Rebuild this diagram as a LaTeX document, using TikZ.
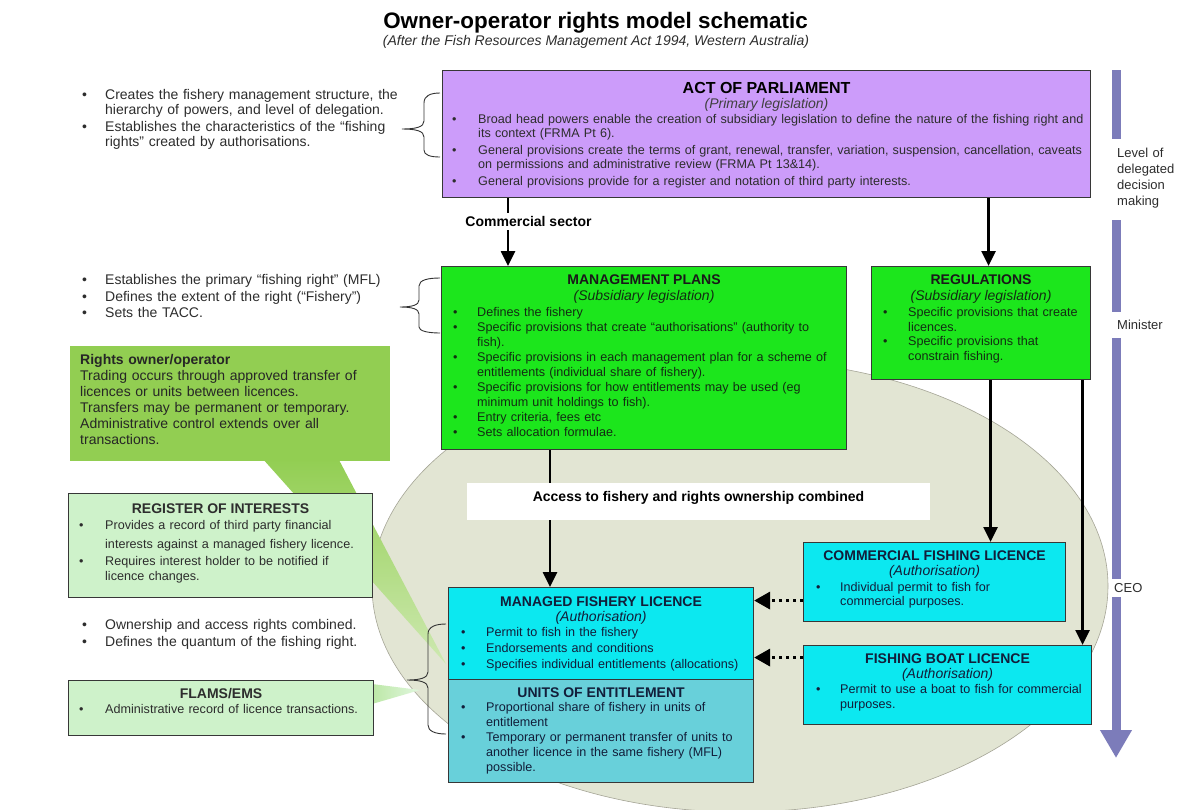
\documentclass[tikz,border=0pt]{standalone}
\usepackage{fontspec}
\setmainfont{Liberation Sans}
\usetikzlibrary{arrows.meta,calc}

\definecolor{actfill}{RGB}{204,156,250}
\definecolor{legfill}{RGB}{28,230,28}
\definecolor{calloutfill}{RGB}{146,206,82}
\definecolor{notefill}{RGB}{206,242,202}
\definecolor{licfill}{RGB}{12,232,240}
\definecolor{unitfill}{RGB}{104,208,218}
\definecolor{fieldfill}{RGB}{226,229,211}
\definecolor{fieldline}{RGB}{165,165,150}
\definecolor{axiscol}{RGB}{124,124,186}
\definecolor{frame}{RGB}{55,55,55}
\definecolor{inkgreen}{RGB}{18,45,18}
\definecolor{inkblue}{RGB}{18,30,58}
\definecolor{inkgrey}{RGB}{45,45,45}

% bullet with hanging indent, and the matching continuation indent
\newcommand\bu[1][24pt]{\makebox[#1][l]{\textbullet}}
\newcommand\ct[1][24pt]{\hspace*{#1}}

\begin{document}
\begin{tikzpicture}[x=1pt,y=-1pt,
  box/.style={draw=frame, line width=1.1pt, inner sep=0pt, anchor=north west},
  hd/.style={font=\fontsize{14}{16}\selectfont\bfseries, anchor=base, inner sep=0pt},
  hdbig/.style={font=\fontsize{16}{18}\selectfont\bfseries, anchor=base, inner sep=0pt},
  sub/.style={font=\fontsize{14}{16}\selectfont\itshape, anchor=base, inner sep=0pt},
  lst/.style={anchor=base west, inner sep=0pt, align=left, text width=#1},
  lst/.default=420pt,
  conn/.style={draw=black, line width=2.6pt, -{Triangle[width=14pt,length=15pt]}},
  dotconn/.style={draw=black, line width=3.4pt, dash pattern=on 3.4pt off 3.6pt,
                  -{Triangle[width=17pt,length=16pt]}},
  brace/.style={draw=black!80, line width=0.9pt},
  axisbar/.style={draw=axiscol, line width=9pt},
  axislbl/.style={font=\fontsize{13}{16}\selectfont, text=inkgrey, inner sep=0pt,
                  anchor=base west, align=left, text width=70pt},
]
\useasboundingbox (0,0) rectangle (1188,809);
\fill[white] (0,0) rectangle (1188,809);

% ---- heading ----
\node[font=\fontsize{22.4}{26}\selectfont\bfseries, anchor=base, inner sep=0pt] (title)
  at (595.5,28) {Owner-operator rights model schematic};
\node[font=\fontsize{14}{16}\selectfont\itshape, text=inkgrey, anchor=base, inner sep=0pt] (subtitle)
  at (596,45) {(After the Fish Resources Management Act 1994, Western Australia)};

% ---- fishery field ----
\draw[fill=fieldfill, draw=fieldline, line width=0.6pt] (740,586) ellipse [x radius=368, y radius=226];

% ---- callout pointers ----
\shade[top color=calloutfill, bottom color=calloutfill!45!white]
  (262,458) -- (446,664) -- (338,458) -- cycle;
\shade[left color=notefill!70!calloutfill, right color=notefill!60!white]
  (372,684) -- (420,690) -- (372,704) -- cycle;

% ---- left-hand notes ----
\node[lst, font=\fontsize{14}{15}\selectfont, text=inkgrey] (notetop) at (82,99.5)
  {\bu[23pt]Creates the fishery management structure, the\\
   \ct[23pt]hierarchy of powers, and level of delegation.\\[2pt]
   \bu[23pt]Establishes the characteristics of the “fishing\\
   \ct[23pt]rights” created by authorisations.};
\node[lst, font=\fontsize{14}{16.5}\selectfont, text=inkgrey] (notemid) at (82,284.5)
  {\bu[23pt]Establishes the primary “fishing right” (MFL)\\
   \bu[23pt]Defines the extent of the right (“Fishery”)\\
   \bu[23pt]Sets the TACC.};
\node[lst, font=\fontsize{14}{17}\selectfont, text=inkgrey] (notelow) at (82,629.5)
  {\bu[23pt]Ownership and access rights combined.\\
   \bu[23pt]Defines the quantum of the fishing right.};

% braces
\draw[brace] (440,93) .. controls (430,93) and (424,96) .. (424,103) -- (424,121)
  .. controls (424,127) and (416,129) .. (402,129)
  .. controls (416,129) and (424,131) .. (424,137) -- (424,150)
  .. controls (424,155) and (430,157) .. (440,157);
\draw[brace] (440,278) .. controls (428,278) and (419,280) .. (419,286) -- (419,300)
  .. controls (419,305) and (412,307) .. (400,307)
  .. controls (412,307) and (419,309) .. (419,314) -- (419,327)
  .. controls (419,331) and (428,333) .. (440,333);
\draw[brace] (446,624) .. controls (435,624) and (428,627) .. (428,634) -- (428,672)
  .. controls (428,678) and (420,680) .. (407,680)
  .. controls (420,680) and (428,682) .. (428,688) -- (428,725)
  .. controls (428,731) and (435,734) .. (446,734);

% rights owner/operator callout
\node[fill=calloutfill, inner sep=0pt, anchor=north west, minimum width=320pt, minimum height=115pt]
  (rights) at (70,346) {};
\node[lst, font=\fontsize{14}{16}\selectfont, text=black!85] (rightstxt) at (80,364)
  {\textbf{Rights owner/operator}\\
   Trading occurs through approved transfer of\\
   licences or units between licences.\\
   Transfers may be permanent or temporary.\\
   Administrative control extends over all\\
   transactions.};

% register of interests
\node[box, fill=notefill, minimum width=304pt, minimum height=104pt] (register) at (68,493) {};
\node[hd, text=inkgrey] (registerhd) at (register.north |- 0,513) {REGISTER OF INTERESTS};
\node[lst, font=\fontsize{12.6}{15}\selectfont, text=inkgrey] (registerlst) at (79,529.5)
  {\bu[26pt]Provides a record of third party financial\\[4pt]
   \ct[26pt]interests against a managed fishery licence.\\[2pt]
   \bu[26pt]Requires interest holder to be notified if\\
   \ct[26pt]licence changes.};

% FLAMS/EMS
\node[box, fill=notefill, minimum width=305pt, minimum height=55pt] (flams) at (68,680) {};
\node[hd, text=inkgrey] (flamshd) at (flams.north |- 0,698) {FLAMS/EMS};
\node[lst, font=\fontsize{12.6}{15}\selectfont, text=inkgrey] (flamslst) at (79,713.5)
  {\bu[26pt]Administrative record of licence transactions.};

% ---- legislation ----
\node[box, fill=actfill, minimum width=648pt, minimum height=127pt] (act) at (442,70) {};
\node[hdbig] (acthd) at (act.north |- 0,93) {ACT OF PARLIAMENT};
\node[sub, text=black!75] (actsub) at (act.north |- 0,108) {(Primary legislation)};
\node[lst=640pt, font=\fontsize{12.6}{14}\selectfont, text=inkgrey] (actlst) at (452,123)
  {\bu[26pt]Broad head powers enable the creation of subsidiary legislation to define the nature of the fishing right and\\
   \ct[26pt]its context (FRMA Pt 6).\\[3pt]
   \bu[26pt]General provisions create the terms of grant, renewal, transfer, variation, suspension, cancellation, caveats\\
   \ct[26pt]on permissions and administrative review (FRMA Pt 13\&14).\\[3pt]
   \bu[26pt]General provisions provide for a register and notation of third party interests.};

\node[box, fill=legfill, minimum width=405pt, minimum height=183pt] (mp) at (441,266) {};
\node[hd, text=black!90] (mphd) at (mp.north |- 0,284) {MANAGEMENT PLANS};
\node[sub, text=inkgreen] (mpsub) at (mp.north |- 0,300) {(Subsidiary legislation)};
\node[lst, font=\fontsize{12.6}{15.1}\selectfont, text=inkgreen] (mplst) at (453,316)
  {\bu Defines the fishery\\
   \bu Specific provisions that create “authorisations” (authority to\\
   \ct fish).\\
   \bu Specific provisions in each management plan for a scheme of\\
   \ct entitlements (individual share of fishery).\\
   \bu Specific provisions for how entitlements may be used (eg\\
   \ct minimum unit holdings to fish).\\
   \bu Entry criteria, fees etc\\
   \bu Sets allocation formulae.};

\node[box, fill=legfill, minimum width=219pt, minimum height=113pt] (regs) at (871,266) {};
\node[hd, text=black!90] (regshd) at (regs.north |- 0,284) {REGULATIONS};
\node[sub, text=inkgreen] (regssub) at (regs.north |- 0,300) {(Subsidiary legislation)};
\node[lst, font=\fontsize{12.6}{14.5}\selectfont, text=inkgreen] (regslst) at (883,316.5)
  {\bu[25pt]Specific provisions that create\\
   \ct[25pt]licences.\\
   \bu[25pt]Specific provisions that\\
   \ct[25pt]constrain fishing.};

% ---- authorisations ----
\node[box, fill=licfill, minimum width=305pt, minimum height=92pt] (mfl) at (448,587) {};
\node[hd, text=inkblue] (mflhd) at (mfl.north |- 0,606) {MANAGED FISHERY LICENCE};
\node[sub, text=inkblue] (mflsub) at (mfl.north |- 0,621) {(Authorisation)};
\node[lst, font=\fontsize{12.6}{16}\selectfont, text=inkblue] (mfllst) at (461,636.5)
  {\bu[25pt]Permit to fish in the fishery\\
   \bu[25pt]Endorsements and conditions\\
   \bu[25pt]Specifies individual entitlements (allocations)};

\node[box, fill=unitfill, minimum width=305pt, minimum height=103pt] (uoe) at (448,679) {};
\node[hd, text=inkblue] (uoehd) at (uoe.north |- 0,697) {UNITS OF ENTITLEMENT};
\node[lst, font=\fontsize{12.6}{15}\selectfont, text=inkblue] (uoelst) at (461,711.5)
  {\bu[25pt]Proportional share of fishery in units of\\
   \ct[25pt]entitlement\\
   \bu[25pt]Temporary or permanent transfer of units to\\
   \ct[25pt]another licence in the same fishery (MFL)\\
   \ct[25pt]possible.};

\node[box, fill=licfill, minimum width=262pt, minimum height=79pt] (cfl) at (803,542) {};
\node[hd, text=inkblue] (cflhd) at (cfl.north |- 0,560) {COMMERCIAL FISHING LICENCE};
\node[sub, text=inkblue] (cflsub) at (cfl.north |- 0,575) {(Authorisation)};
\node[lst, font=\fontsize{12.6}{14}\selectfont, text=inkblue] (cfllst) at (816,591.5)
  {\bu Individual permit to fish for\\
   \ct commercial purposes.};

\node[box, fill=licfill, minimum width=288pt, minimum height=79pt] (fbl) at (803,645) {};
\node[hd, text=inkblue] (fblhd) at (fbl.north |- 0,663) {FISHING BOAT LICENCE};
\node[sub, text=inkblue] (fblsub) at (fbl.north |- 0,678) {(Authorisation)};
\node[lst, font=\fontsize{12.6}{15}\selectfont, text=inkblue] (fbllst) at (816,693.5)
  {\bu Permit to use a boat to fish for commercial\\
   \ct purposes.};

% ---- connectors ----
\coordinate (mpin)  at ([xshift=67pt]mp.north west);
\coordinate (regin) at ([xshift=7.5pt]regs.north);
\coordinate (mflin) at ([xshift=102pt]mfl.north west);
\coordinate (cflin) at ([xshift=9.5pt]regs.south |- cfl.north);
\coordinate (fblin) at ([xshift=101.5pt]regs.south |- fbl.north);

\draw[conn] (act.south -| mpin) -- (mpin);
\draw[conn] (act.south -| regin) -- (regin);
\draw[conn] (mp.south -| mflin) -- (mflin);
\draw[conn] (regs.south -| cflin) -- (cflin);
\draw[conn] (regs.south -| fblin) -- (fblin);

\draw[dotconn] ([yshift=-18.5pt]cfl.west) -- ([yshift=-18.5pt]cfl.west -| mfl.east);
\draw[dotconn] ([yshift=27.5pt]fbl.west) -- ([yshift=27.5pt]fbl.west -| mfl.east);

% labels sitting on the connectors
\node[fill=white, font=\fontsize{14}{16}\selectfont\bfseries, inner xsep=2pt, inner ysep=3pt, anchor=base]
  (commercial) at (528.5,226.5) {Commercial sector};
\node[fill=white, inner sep=0pt, anchor=north west, minimum width=463pt, minimum height=37pt]
  (banner) at (467,483) {};
\node[font=\fontsize{14}{16}\selectfont\bfseries, anchor=base, inner sep=0pt]
  (bannertxt) at (698.5,501.5) {Access to fishery and rights ownership combined};

% ---- delegation axis ----
\node[axislbl] (lvl) at (1117,157) {Level of\\delegated\\decision\\making};
\node[axislbl] (minister) at (1117,329.5) {Minister};
\coordinate (axtop) at (1116,70);
\coordinate (axend) at (1116,758);
\draw[axisbar] (axtop) -- ([yshift=-69pt]axtop);
\draw[axisbar] ([yshift=-150pt]axtop) -- ([yshift=-242pt]axtop);
\draw[axisbar, -{Triangle[width=30pt,length=28pt]}] ([yshift=-268pt]axtop) -- (axend);
\node[fill=white, font=\fontsize{13}{16}\selectfont, text=inkgrey, inner xsep=3pt, inner ysep=4pt, anchor=base west]
  (ceo) at (1111,592.5) {CEO};
\end{tikzpicture}
\end{document}
